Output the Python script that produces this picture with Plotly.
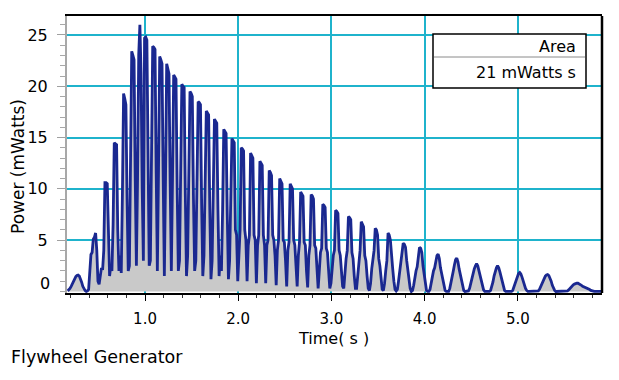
import plotly.graph_objects as go

# ---- data ----
# power samples (mWatts), equally spaced in time
t_start = 0.17       # s, time of first sample
t_step = 0.0125      # s, sample interval
power = [
    0.05, 0.15, 0.3, 0.5, 0.75, 1.0, 1.25, 1.45, 1.55, 1.6,
    1.5, 1.25, 0.9, 0.5, 0.25, 0.08, 0.0, 0.05, 0.2, 1.5,
    3.6, 3.8, 5.1, 5.3, 5.7, 4.0, 1.0, 0.7, 1.5, 2.3,
    2.1, 4.0, 10.6, 10.6, 10.5, 5.0, 1.5, 2.5, 2.0, 6.5,
    14.5, 14.4, 14.3, 6.0, 2.0, 3.5, 1.8, 9.5, 19.3, 18.8,
    18.2, 9.0, 2.0, 2.5, 11.5, 23.4, 23.0, 22.6, 11.0, 2.5,
    11.0, 23.1, 26.0, 21.3, 10.0, 3.0, 24.7, 24.8, 24.5, 12.0,
    2.5, 3.0, 12.5, 23.9, 23.8, 23.6, 11.5, 2.0, 12.0, 22.9,
    22.6, 22.2, 11.0, 1.5, 11.0, 22.2, 21.7, 21.2, 10.5, 2.0,
    11.0, 21.1, 20.9, 20.7, 10.0, 2.0, 3.0, 11.0, 20.2, 20.0,
    19.9, 9.5, 1.5, 3.5, 10.0, 19.5, 19.3, 19.0, 9.0, 2.0,
    3.0, 9.5, 18.5, 18.4, 18.2, 8.5, 1.5, 3.5, 9.0, 17.6,
    17.4, 17.2, 8.0, 1.2, 3.0, 8.5, 16.8, 16.6, 16.4, 8.0,
    1.5, 3.5, 2.0, 8.0, 15.8, 15.6, 15.4, 7.5, 1.2, 3.0,
    7.5, 14.9, 14.7, 14.5, 6.0, 5.5, 1.0, 4.5, 6.0, 14.0,
    13.9, 13.7, 6.0, 5.0, 1.0, 4.5, 5.5, 13.5, 13.3, 13.0,
    5.5, 5.0, 0.8, 4.5, 5.5, 12.7, 12.5, 12.3, 5.5, 4.5,
    0.8, 4.5, 5.0, 11.8, 11.6, 11.3, 5.5, 5.0, 3.5, 0.6,
    4.0, 5.0, 11.0, 10.8, 10.5, 5.0, 4.8, 3.0, 0.5, 4.0,
    4.8, 10.5, 10.3, 10.0, 5.0, 4.5, 2.5, 0.5, 3.5, 4.8,
    9.7, 9.5, 9.3, 4.8, 4.5, 2.0, 0.4, 3.5, 4.5, 9.45,
    9.3, 9.0, 4.5, 4.2, 2.0, 0.3, 2.0, 3.8, 4.2, 8.5,
    8.4, 8.2, 4.2, 3.8, 2.0, 0.3, 0.8, 2.5, 3.5, 4.0,
    7.9, 7.8, 7.6, 4.0, 3.5, 2.0, 0.5, 0.3, 2.0, 3.2,
    4.0, 7.3, 7.2, 7.0, 3.8, 3.2, 1.5, 0.3, 0.3, 1.8,
    3.0, 4.0, 6.8, 6.6, 6.3, 3.5, 3.0, 1.5, 0.3, 0.1,
    0.8, 2.2, 3.0, 4.0, 6.15, 6.0, 5.5, 3.2, 2.5, 1.2,
    0.2, 0.1, 0.8, 2.0, 3.0, 5.7, 5.5, 5.0, 3.0, 2.2,
    1.0, 0.2, 0.05, 0.2, 1.0, 2.0, 2.4, 3.8, 4.7, 4.6,
    4.3, 3.0, 2.0, 1.0, 0.3, 0.0, 0.1, 0.6, 1.5, 2.0,
    2.4, 3.5, 4.3, 4.2, 3.8, 2.5, 1.5, 0.6, 0.1, 0.0,
    0.0, 0.2, 0.8, 1.5, 2.0, 2.3, 3.0, 3.5, 3.65, 3.2,
    2.3, 1.8, 1.2, 0.5, 0.1, 0.0, 0.0, 0.0, 0.3, 1.0,
    1.6, 2.0, 2.6, 3.1, 3.25, 2.9, 2.2, 1.6, 1.0, 0.4,
    0.1, 0.0, 0.0, 0.0, 0.05, 0.3, 0.8, 1.4, 1.8, 2.2,
    2.5, 2.7, 2.5, 2.0, 1.5, 1.0, 0.5, 0.15, 0.0, 0.0,
    0.0, 0.0, 0.0, 0.1, 0.4, 0.9, 1.5, 2.0, 2.3, 2.5,
    2.3, 1.9, 1.4, 0.9, 0.4, 0.1, 0.0, 0.0, 0.0, 0.0,
    0.0, 0.0, 0.1, 0.4, 0.8, 1.2, 1.5, 1.75, 1.85, 1.7,
    1.4, 1.0, 0.6, 0.3, 0.1, 0.0, 0.0, 0.0, 0.0, 0.0,
    0.0, 0.0, 0.0, 0.0, 0.05, 0.2, 0.5, 0.8, 1.1, 1.3,
    1.5, 1.6, 1.65, 1.55, 1.3, 1.0, 0.6, 0.3, 0.1, 0.0,
    0.0, 0.0, 0.0, 0.0, 0.0, 0.0, 0.0, 0.0, 0.0, 0.05,
    0.15, 0.3, 0.45, 0.55, 0.65, 0.72, 0.78, 0.8, 0.8, 0.75,
    0.68, 0.6, 0.5, 0.45, 0.4, 0.38, 0.35, 0.3, 0.2, 0.1,
    0.05, 0.0, 0.0, 0.0, 0.0, 0.0, 0.0, 0.0, 0.0, 0.0,
]
x_ticks = [1, 2, 3, 4, 5]
x_tick_labels = ["1.0", "2.0", "3.0", "4.0", "5.0"]
y_ticks = [5, 10, 15, 20, 25]
y_tick_labels = ["5", "10", "15", "20", "25"]
area_header = "Area"
area_value = "21 mWatts s"
x_title = "Time( s )"
y_title = "Power (mWatts)"
footer = "Flywheel Generator"

# ---- layout geometry (pixels) ----
W, H = 619, 380
L, R, T, B = 67, 602, 16, 293


def px(x):
    return (x - L) / (R - L)


def py(y):
    return (B - y) / (B - T)


FONT = "DejaVu Sans"
TEAL = "#1fb3cc"
NAVY = "#1a2890"

fig = go.Figure()
fig.add_trace(go.Scatter(
    y=power, x0=t_start, dx=t_step, mode="lines",
    line=dict(color=NAVY, width=2.8),
    fill="tozeroy", fillcolor="#c9c9c9",
    hoverinfo="skip", showlegend=False,
))

fig.update_layout(
    width=W, height=H,
    margin=dict(l=L, r=W - R, t=T, b=H - B, pad=0),
    paper_bgcolor="white", plot_bgcolor="white",
    font=dict(family=FONT, size=15, color="black"),
    showlegend=False,
)

fig.update_xaxes(
    range=[0.163, 5.903], tickmode="array", tickvals=x_ticks, ticktext=x_tick_labels,
    showgrid=True, gridcolor=TEAL, gridwidth=1.5, zeroline=False,
    showline=True, linecolor="black", linewidth=2, mirror=True,
    ticks="outside", ticklen=6, tickwidth=1, tickcolor="black",
    ticklabelstandoff=5,
    minor=dict(tickmode="linear", tick0=0, dtick=0.2, ticks="outside",
               ticklen=3, tickcolor="#333333", showgrid=False),
    tickfont=dict(family=FONT, size=15, color="black"),
)
fig.update_yaxes(
    range=[-0.15, 26.85], tickmode="array", tickvals=y_ticks, ticktext=y_tick_labels,
    showgrid=True, gridcolor=TEAL, gridwidth=1.5, zeroline=False,
    showline=True, linecolor="#a8a8a8", linewidth=2, mirror=False,
    ticks="outside", ticklen=8, tickwidth=1, tickcolor="#a0a0a0",
    ticklabelstandoff=6,
    minor=dict(tickmode="linear", tick0=0, dtick=1, ticks="outside",
               ticklen=5, tickcolor="#a8a8a8", showgrid=False),
    tickfont=dict(family=FONT, size=16, color="black"),
)

shapes = [
    # right frame edge
    dict(type="line", xref="paper", yref="paper", x0=1, x1=1, y0=0, y1=1,
         line=dict(color="black", width=2.5), layer="above"),
    # area box
    dict(type="rect", xref="paper", yref="paper",
         x0=px(433), x1=px(586), y0=py(88), y1=py(34),
         fillcolor="white", line=dict(color="black", width=1.5), layer="above"),
    dict(type="line", xref="paper", yref="paper",
         x0=px(434), x1=px(585), y0=py(57), y1=py(57),
         line=dict(color="#8a8a8a", width=1), layer="above"),
]
fig.update_layout(shapes=shapes)

ann = [
    dict(text=area_header, x=px(578), y=py(46), xanchor="right", yanchor="middle",
         font=dict(family=FONT, size=16, color="black")),
    dict(text=area_value, x=px(578), y=py(72), xanchor="right", yanchor="middle",
         font=dict(family=FONT, size=16, color="black")),
    dict(text="0", x=px(52), y=py(283), xanchor="right", yanchor="middle",
         font=dict(family=FONT, size=16, color="black")),
    dict(text=x_title, x=px(333), y=py(338), xanchor="center", yanchor="middle",
         font=dict(family=FONT, size=16, color="black")),
    dict(text=y_title, x=px(18), y=py(167), xanchor="center", yanchor="middle",
         textangle=-90, font=dict(family=FONT, size=17, color="black")),
    dict(text=footer, x=px(9), y=py(357), xanchor="left", yanchor="middle",
         font=dict(family=FONT, size=17.5, color="black")),
]
for a in ann:
    a.update(xref="paper", yref="paper", showarrow=False)
fig.update_layout(annotations=ann)

fig.write_html(
    "out.html",
    config={"displayModeBar": False},
    post_script="document.body.style.margin='0px';document.body.style.padding='0px';",
)
